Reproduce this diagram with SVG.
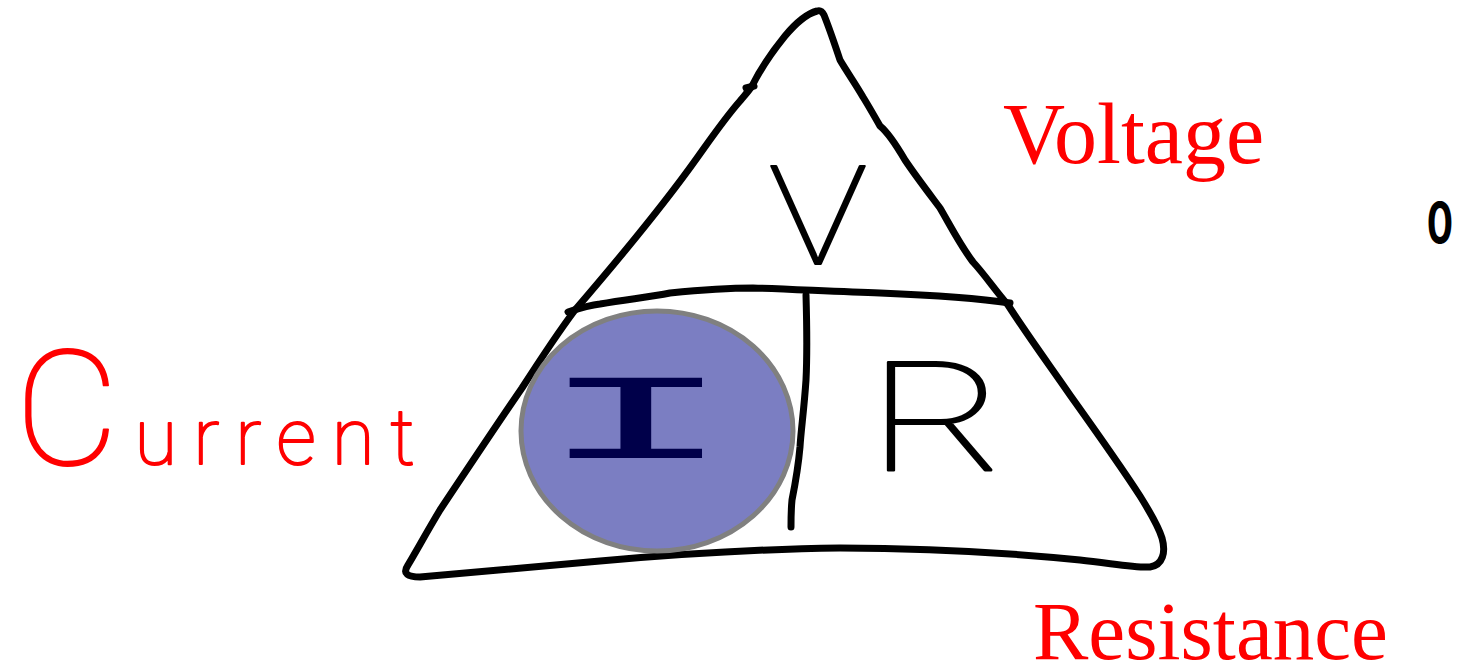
<svg xmlns="http://www.w3.org/2000/svg" width="1463" height="668" viewBox="0 0 1463 668">
<style>
.ink{fill:none;stroke:#000;stroke-width:7;stroke-linecap:round;stroke-linejoin:round}
.hand{font-family:Roboto,Inter,"DejaVu Sans",sans-serif;font-weight:100;stroke-width:2;stroke-linejoin:round}
.label{font-family:"Liberation Serif","Times New Roman",serif;fill:#ff0000}
</style>
<rect width="1463" height="668" fill="#fff"/>
<g id="triangle">
<path class="ink" d="M817,11 C806,14 795,24 785,36 C772,52 760,70 752,86 C748,92 744,96 740,101 C725,118 712,137 697,158 C660,210 618,260 575,310 C560,330 540,360 522,388 C500,420 470,465 440,510 C428,530 418,548 408,565 C402,574 408,577 420,577 C460,574 520,568 600,561 C680,554 760,549 840,548 C920,548 1000,552 1080,560 C1110,563 1135,568 1150,567 C1163,565 1166,552 1162,538 C1158,525 1150,512 1140,496 C1120,465 1095,430 1070,395 C1050,366 1028,336 1008,305 C995,290 985,275 973,262 C960,245 950,225 940,208 C925,188 915,175 905,160 C895,143 885,130 880,126 C872,112 868,105 863,97 C855,83 847,72 840,60 C835,45 830,30 824,15 C822,11 820,10 817,11 Z"/>
<path class="ink" d="M746,88 L754,86"/>
</g>
<g id="divider">
<path class="ink" d="M568,312 C580,308 590,305 600,304 C630,299 650,297 670,293 C700,290 730,288 753,288 C790,289 840,292 880,293 C930,295 970,297 1010,303"/>
<path class="ink" d="M806,295 C807,330 807,360 806,380 C804,410 801,430 800,447 C798,470 794,490 792,500 C791,510 791,520 791,527"/>
</g>
<g id="current-node">
<ellipse cx="657" cy="431" rx="136" ry="120" fill="#7b7ec2" stroke="#808080" stroke-width="5"/>
<text x="636" y="458" text-anchor="middle" font-family="'Liberation Mono','Courier New',monospace" font-size="122" fill="#00004a" transform="translate(636 0) scale(2.7 1) translate(-636 0)">I</text>
</g>
<g id="voltage-node">
<text class="hand" x="818" y="264" text-anchor="middle" font-size="138" fill="#000" stroke="#000" transform="translate(818 0) scale(1.2 1) translate(-818 0)">V</text>
<text class="label" x="1003" y="163" font-size="86">Voltage</text>
</g>
<g id="resistance-node">
<text class="hand" x="937" y="470" text-anchor="middle" font-size="152" fill="#000" stroke="#000" transform="translate(937 0) scale(1.38 1) translate(-937 0)">R</text>
<text class="label" x="1033" y="659" font-size="83">Resistance</text>
</g>
<g id="current-label">
<text class="hand" x="15" y="464" fill="#ff0000" stroke="#ff0000" textLength="400" lengthAdjust="spacing"><tspan font-size="160">C</tspan><tspan font-size="78">urrent</tspan></text>
</g>
<g id="zero">
<text x="1440" y="243" text-anchor="middle" font-family="Inter,'DejaVu Sans',sans-serif" font-weight="700" font-size="56" fill="#000" transform="translate(1440 0) scale(0.7 1) translate(-1440 0)">0</text>
</g>
</svg>
